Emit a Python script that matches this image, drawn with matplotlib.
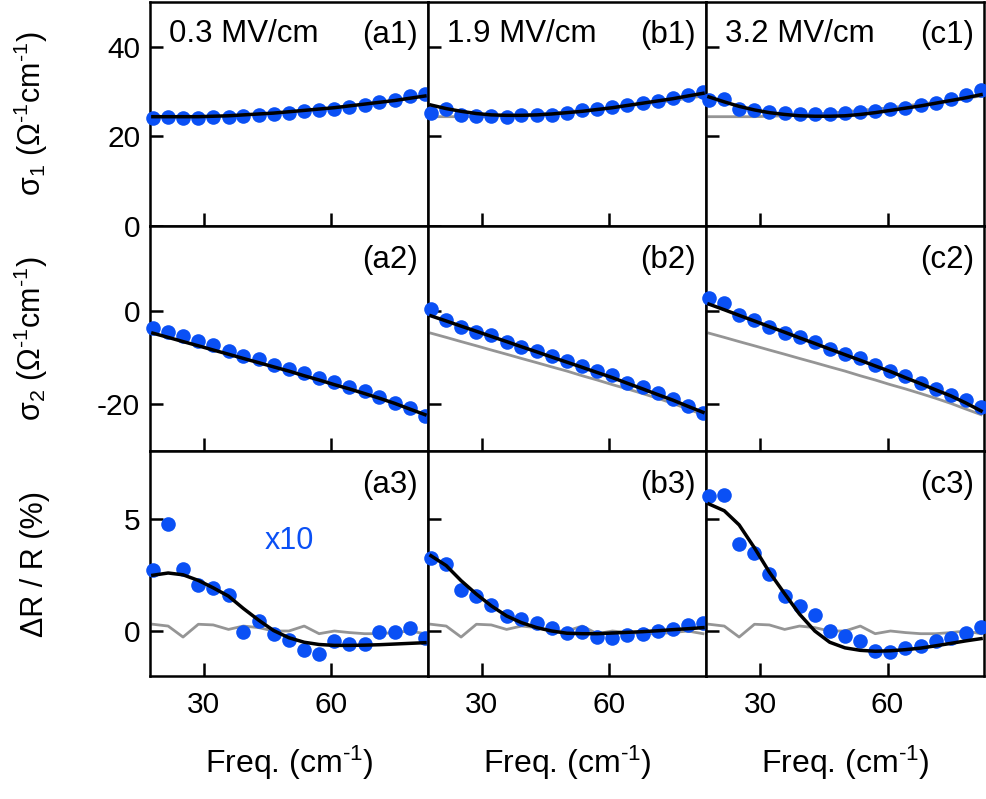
import matplotlib
matplotlib.use("Agg")
import matplotlib.pyplot as plt

plt.rcParams["font.family"] = ["Liberation Sans", "DejaVu Sans"]
plt.rcParams["mathtext.fontset"] = "custom"
plt.rcParams["mathtext.rm"] = "Liberation Sans"
plt.rcParams["mathtext.it"] = "Liberation Sans:italic"
plt.rcParams["axes.unicode_minus"] = False

# frequency grid (cm^-1)
freq = [18.0, 21.6, 25.1, 28.7, 32.2, 35.8, 39.3, 42.9, 46.4, 50.0,
        53.6, 57.1, 60.7, 64.2, 67.8, 71.3, 74.9, 78.4, 82.0]

fields = ["0.3 MV/cm", "1.9 MV/cm", "3.2 MV/cm"]

# sigma_1 data and fits
s1_a = [24.1, 24.3, 24.1, 24.1, 24.3, 24.4, 24.6, 24.8, 25.0, 25.2,
        25.6, 25.8, 26.1, 26.6, 27.0, 27.6, 28.1, 28.9, 29.4]
s1_b = [25.2, 26.1, 24.8, 24.6, 24.6, 24.4, 24.7, 24.8, 24.8, 25.2,
        25.9, 26.1, 26.6, 27.0, 27.4, 28.0, 28.5, 29.3, 30.0]
s1_c = [28.2, 28.4, 26.0, 25.9, 25.4, 25.2, 25.0, 25.1, 25.1, 25.2,
        25.4, 25.6, 26.0, 26.4, 27.0, 27.5, 28.3, 29.3, 30.3]
s1_fit_a = [24.4, 24.4, 24.4, 24.4, 24.5, 24.6, 24.8, 25.0, 25.2, 25.5,
            25.8, 26.1, 26.4, 26.8, 27.2, 27.6, 28.0, 28.5, 29.0]
s1_fit_b = [27.0, 26.2, 25.6, 25.1, 24.8, 24.7, 24.7, 24.8, 25.0, 25.3,
            25.6, 26.0, 26.4, 26.9, 27.4, 27.9, 28.4, 29.0, 29.6]
s1_fit_c = [28.8, 27.7, 26.7, 25.9, 25.3, 24.9, 24.6, 24.5, 24.5, 24.6,
            24.9, 25.3, 25.8, 26.3, 26.8, 27.4, 28.0, 28.6, 29.3]

# sigma_2 data and fits
s2_a = [-3.7, -4.6, -5.5, -6.5, -7.4, -8.7, -9.6, -10.3, -11.5, -12.4,
        -13.3, -14.3, -15.2, -16.3, -17.2, -18.4, -19.7, -20.8, -22.5]
s2_b = [0.4, -1.9, -3.5, -4.5, -5.3, -6.7, -7.7, -8.7, -9.6, -10.8,
        -11.8, -12.8, -13.8, -15.4, -16.3, -17.6, -18.8, -20.4, -21.8]
s2_c = [2.8, 1.6, -0.9, -1.9, -3.5, -4.8, -5.7, -6.7, -8.2, -9.2,
        -10.1, -11.7, -12.9, -14.0, -15.4, -16.7, -17.9, -19.1, -20.6]
s2_fit_a = [-4.8, -5.7, -6.6, -7.5, -8.4, -9.3, -10.2, -11.1, -12.0, -12.9,
            -13.9, -14.8, -15.8, -16.7, -17.7, -18.7, -19.8, -21.0, -22.2]
s2_fit_b = [-1.1, -2.2, -3.3, -4.4, -5.5, -6.6, -7.7, -8.8, -9.9, -11.0,
            -12.1, -13.2, -14.3, -15.5, -16.7, -17.9, -19.1, -20.4, -21.7]
s2_fit_c = [1.4, 0.2, -1.0, -2.2, -3.4, -4.6, -5.8, -7.0, -8.2, -9.4,
            -10.6, -11.8, -13.0, -14.3, -15.6, -16.9, -18.2, -19.7, -21.4]

# dR/R data (a scaled x10) and fits
dr_a = [2.73, 4.78, 2.76, 2.04, 1.91, 1.61, -0.03, 0.45, -0.15, -0.40,
        -0.85, -1.04, -0.45, -0.60, -0.60, -0.04, -0.04, 0.15, -0.30]
dr_b = [3.25, 2.99, 1.84, 1.57, 1.15, 0.67, 0.52, 0.37, 0.15, -0.10,
        -0.04, -0.27, -0.30, -0.19, -0.15, 0.0, 0.10, 0.25, 0.37]
dr_c = [6.0, 6.07, 3.88, 3.48, 2.54, 1.54, 1.09, 0.72, 0.0, -0.22,
        -0.45, -0.90, -0.93, -0.75, -0.67, -0.45, -0.30, -0.10, 0.18]
dr_fit_a = [2.48, 2.58, 2.50, 2.25, 1.92, 1.55, 1.0, 0.48, 0.02, -0.3,
            -0.5, -0.6, -0.64, -0.64, -0.63, -0.61, -0.58, -0.55, -0.52]
dr_fit_b = [3.35, 2.91, 2.24, 1.64, 1.12, 0.67, 0.37, 0.15, 0.0, -0.1,
            -0.12, -0.12, -0.09, -0.06, -0.03, 0.01, 0.06, 0.10, 0.15]
dr_fit_c = [5.65, 5.35, 4.72, 3.7, 2.62, 1.66, 0.75, 0.0, -0.5, -0.75,
            -0.86, -0.9, -0.88, -0.83, -0.76, -0.66, -0.55, -0.44, -0.34]
dr_ref = [0.3, 0.22, -0.27, 0.3, 0.27, 0.07, 0.22, 0.15, 0.0, 0.0,
          0.22, -0.12, 0.0, -0.07, -0.12, -0.12, -0.07, 0.0, -0.12]

data = [[s1_a, s1_b, s1_c], [s2_a, s2_b, s2_c], [dr_a, dr_b, dr_c]]
fits = [[s1_fit_a, s1_fit_b, s1_fit_c], [s2_fit_a, s2_fit_b, s2_fit_c],
        [dr_fit_a, dr_fit_b, dr_fit_c]]
refs = [[None, s1_fit_a, s1_fit_a], [None, s2_fit_a, s2_fit_a],
        [dr_ref, dr_ref, dr_ref]]

ylims = [(0, 50), (-30, 18), (-2, 8)]
yticks = [[0, 20, 40], [-20, 0], [0, 5]]
inv = "$^{\u2010 1}$".replace(" ", "")
ylabels = ["σ$_1$ (Ω%scm%s)" % (inv, inv), "σ$_2$ (Ω%scm%s)" % (inv, inv),
           "ΔR / R (%)"]

blue = "#0a50f5"
grey = "#959595"

fig, axes = plt.subplots(3, 3, figsize=(9.86, 7.99), dpi=100)
fig.subplots_adjust(left=0.152, right=0.998, top=0.998, bottom=0.154,
                    hspace=0, wspace=0)

for r in range(3):
    for c in range(3):
        ax = axes[r, c]
        if refs[r][c] is not None:
            ax.plot(freq, refs[r][c], color=grey, lw=2.0, zorder=2, clip_on=False)
        ax.plot(freq, data[r][c], "o", color=blue, ms=10.5, mec="none",
                zorder=3, clip_on=False)
        ax.plot(freq, fits[r][c], color="black", lw=2.5, zorder=4, clip_on=False)

        ax.set_xlim(17.3, 82.7)
        ax.set_ylim(*ylims[r])
        ax.set_xticks([30, 60])
        ax.set_yticks(yticks[r])
        ax.tick_params(direction="in", length=9.5, width=1.8, labelsize=21.5,
                       top=False, right=False)
        ax.tick_params(axis="y", pad=7)
        ax.tick_params(axis="x", pad=11)
        for sp in ax.spines.values():
            sp.set_linewidth(1.8)

        if c > 0:
            ax.set_yticklabels([])
        else:
            ax.set_ylabel(ylabels[r], fontsize=22)
            ax.yaxis.set_label_coords(-0.36, 0.5)
        if r < 2:
            ax.set_xticklabels([])
        else:
            ax.set_xlabel("Freq. (cm%s)" % inv, fontsize=23)
            ax.xaxis.set_label_coords(0.5, -0.30)

        ax.text(0.965, 0.85, "(%s%d)" % ("abc"[c], r + 1), transform=ax.transAxes,
                ha="right", va="center", fontsize=22.5)
        if r == 0:
            ax.text(0.07, 0.855, fields[c], transform=ax.transAxes,
                    ha="left", va="center", fontsize=22.5)

axes[2, 0].text(0.5, 0.6, "x10", transform=axes[2, 0].transAxes,
                ha="center", va="center", fontsize=22, color=blue)

fig.savefig("out.png", dpi=100)
